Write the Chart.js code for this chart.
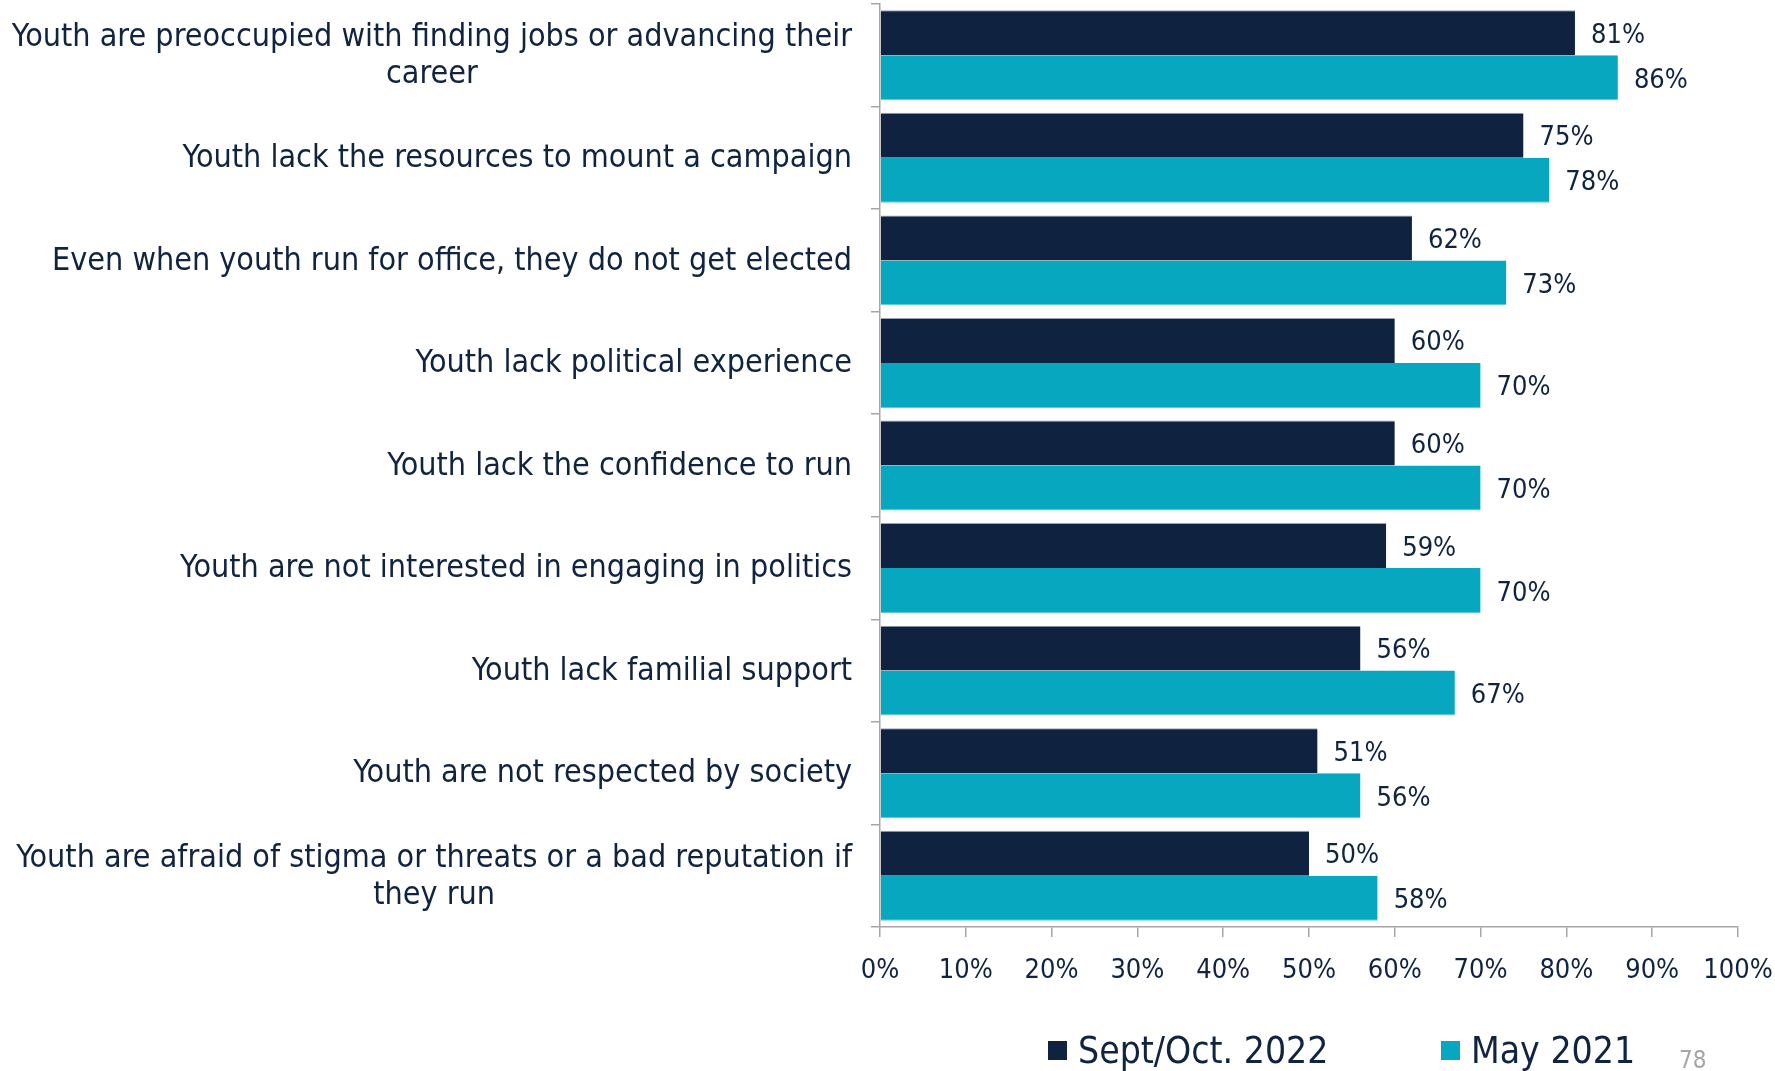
<!DOCTYPE html>
<html>
<head>
<meta charset="utf-8">
<script src="https://cdn.jsdelivr.net/npm/chart.js@4.4.1/dist/chart.umd.min.js"></script>
<style>
  html, body { margin: 0; padding: 0; background: #ffffff; }
  #wrap { width: 1775px; height: 1071px; position: relative; }
  canvas { display: block; }
</style>
</head>
<body>
<div id="wrap"><canvas id="c" width="1775" height="1071"></canvas></div>
<script>
// ---------- data ----------
const categories = [
  ["Youth are preoccupied with finding jobs or advancing their", "career"],
  "Youth lack the resources to mount a campaign",
  "Even when youth run for office, they do not get elected",
  "Youth lack political experience",
  "Youth lack the confidence to run",
  "Youth are not interested in engaging in politics",
  "Youth lack familial support",
  "Youth are not respected by society",
  ["Youth are afraid of stigma or threats or a bad reputation if", "they run"]
];
const seriesNames = ["Sept/Oct. 2022", "May 2021"];
const sept2022 = [81, 75, 62, 60, 60, 59, 56, 51, 50];
const may2021 = [86, 78, 73, 70, 70, 70, 67, 56, 58];
const xTicks = [0, 10, 20, 30, 40, 50, 60, 70, 80, 90, 100];
const pageNumber = "78";

// ---------- styles ----------
const FONT = '"DejaVu Sans Condensed", "DejaVu Sans", sans-serif';
const NAVY = '#0F2341';
const TEAL = '#08A7C0';
const TEXT = '#10233F';
const AXIS = '#A6A6A6';

const yLabelPlugin = {
  id: 'yLabels',
  afterDraw(chart) {
    const ctx = chart.ctx;
    const ys = chart.scales.y;
    ctx.save();
    ctx.font = '32px ' + FONT;
    ctx.fillStyle = TEXT;
    ctx.textBaseline = 'middle';
    const right = 852;
    const lh = 37;
    categories.forEach((lab, i) => {
      const y = ys.getPixelForValue(i) + 1;
      if (Array.isArray(lab)) {
        const maxW = Math.max(...lab.map(l => ctx.measureText(l).width));
        const cx = right - maxW / 2;
        ctx.textAlign = 'center';
        const y0 = y - (lab.length - 1) * lh / 2;
        lab.forEach((l, k) => ctx.fillText(l, cx, y0 + k * lh));
      } else {
        ctx.textAlign = 'right';
        ctx.fillText(lab, right, y);
      }
    });
    ctx.restore();
  }
};

const valueLabelPlugin = {
  id: 'valueLabels',
  afterDatasetsDraw(chart) {
    const ctx = chart.ctx;
    ctx.save();
    ctx.font = '27px ' + FONT;
    ctx.fillStyle = TEXT;
    ctx.textAlign = 'left';
    ctx.textBaseline = 'middle';
    chart.data.datasets.forEach((ds, di) => {
      const meta = chart.getDatasetMeta(di);
      meta.data.forEach((bar, i) => {
        ctx.fillText(ds.data[i] + '%', bar.x + 16, bar.y + 3);
      });
    });
    ctx.restore();
  }
};

const legendPlugin = {
  id: 'customLegend',
  afterDraw(chart) {
    const ctx = chart.ctx;
    ctx.save();
    ctx.font = '37px ' + FONT;
    ctx.textBaseline = 'alphabetic';
    ctx.textAlign = 'left';
    const starts = [1048, 1441];
    chart.data.datasets.forEach((ds, di) => {
      const x = starts[di];
      ctx.fillStyle = ds.backgroundColor;
      ctx.fillRect(x, 1041, 19, 19);
      ctx.fillStyle = TEXT;
      ctx.fillText(ds.label, x + 30, 1063);
    });
    ctx.font = '24px ' + FONT;
    ctx.fillStyle = AXIS;
    ctx.fillText(pageNumber, 1679, 1068);
    ctx.restore();
  }
};

function draw() {
  new Chart(document.getElementById('c'), {
    type: 'bar',
    data: {
      labels: categories.map(c => Array.isArray(c) ? c.join(' ') : c),
      datasets: [
        {
          label: seriesNames[0],
          data: sept2022,
          backgroundColor: NAVY,
          borderColor: '#9AA2AF',
          borderWidth: { top: 1, right: 0, bottom: 0, left: 0 },
          borderSkipped: false,
          categoryPercentage: 0.877,
          barPercentage: 1.0
        },
        {
          label: seriesNames[1],
          data: may2021,
          backgroundColor: TEAL,
          borderColor: '#5DCADC',
          borderWidth: { top: 0, right: 0, bottom: 1, left: 0 },
          borderSkipped: false,
          categoryPercentage: 0.877,
          barPercentage: 1.0
        }
      ]
    },
    options: {
      indexAxis: 'y',
      responsive: false,
      animation: false,
      devicePixelRatio: 1,
      layout: { padding: { top: 4, right: 37, left: 0, bottom: 0 } },
      plugins: { legend: { display: false }, tooltip: { enabled: false } },
      scales: {
        x: {
          min: 0, max: 100,
          afterBuildTicks: s => { s.ticks = xTicks.map(v => ({ value: v })); },
          ticks: {
            callback: v => v + '%',
            color: TEXT,
            font: { family: FONT, size: 27 },
            padding: 18,
            maxRotation: 0,
            autoSkip: false
          },
          grid: { display: true, drawOnChartArea: false, drawTicks: true, tickLength: 10, color: AXIS, lineWidth: 1.5 },
          border: { display: true, color: AXIS, width: 1.5 },
          afterFit: s => { s.height = 144; s.paddingLeft = 0; s.paddingRight = 0; }
        },
        y: {
          ticks: { display: false },
          grid: { display: true, drawOnChartArea: false, drawTicks: true, tickLength: 9, color: AXIS, lineWidth: 1.5, offset: true },
          border: { display: true, color: AXIS, width: 1.5 },
          afterFit: s => { s.width = 880; s.paddingTop = 0; s.paddingBottom = 0; }
        }
      }
    },
    plugins: [yLabelPlugin, valueLabelPlugin, legendPlugin]
  });
}

if (document.fonts && document.fonts.load) {
  Promise.all([
    document.fonts.load('32px "DejaVu Sans Condensed"'),
    document.fonts.load('27px "DejaVu Sans Condensed"')
  ]).then(draw, draw);
} else {
  draw();
}
</script>
</body>
</html>
